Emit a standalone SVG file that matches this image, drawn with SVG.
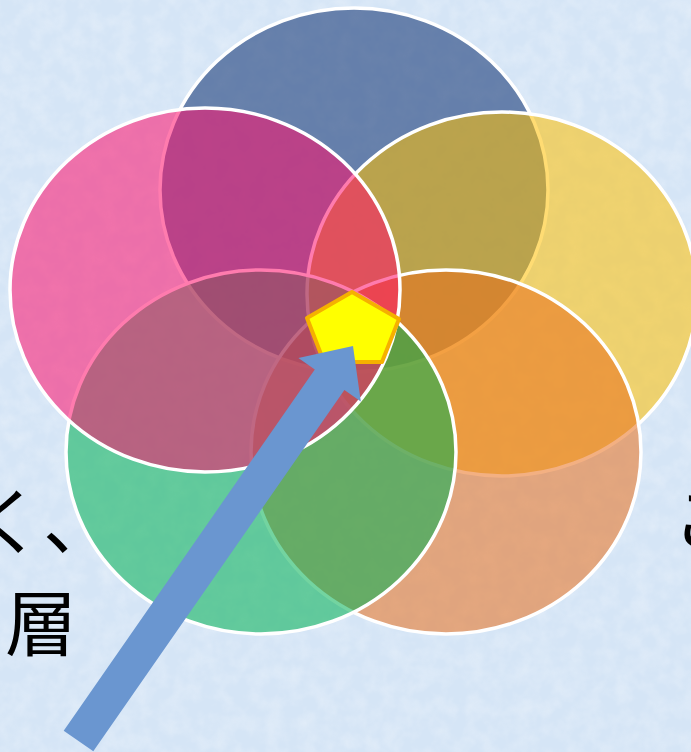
<svg xmlns="http://www.w3.org/2000/svg" width="691" height="752" viewBox="0 0 691 752">
<style>
.e{stroke:#ffffff;stroke-width:3.5;fill-opacity:0.55}
.t{font-family:"Noto Sans CJK JP","Noto Sans CJK SC",sans-serif;font-size:72px;fill:#000}
</style>
<defs>
<filter id="tex" x="0" y="0" width="100%" height="100%">
<feTurbulence type="fractalNoise" baseFrequency="0.06" numOctaves="3" seed="4"/>
<feColorMatrix type="matrix" values="0 0 0 0 1  0 0 0 0 1  0 0 0 0 1  0 0 0 0.9 -0.3"/>
</filter>
</defs>
<rect width="691" height="752" fill="#d5e5f6"/>
<rect width="691" height="752" filter="url(#tex)" opacity="0.5"/>
<g id="blue"><ellipse class="e" cx="354" cy="190" rx="194" ry="182" fill="#0a2c6e"/></g>
<g id="yellow"><ellipse class="e" cx="502" cy="294" rx="195" ry="182" fill="#ffc000"/></g>
<g id="orange"><ellipse class="e" cx="446" cy="452" rx="195" ry="182" fill="#ea701c"/></g>
<g id="green"><ellipse class="e" cx="261" cy="452" rx="195" ry="182" fill="#00b052"/></g>
<g id="pink"><ellipse class="e" cx="205" cy="290" rx="195" ry="182" fill="#ff0f6c"/></g>
<g id="center"><polygon points="352,292 399,319 382,362 324,362 307,318" fill="#ffff00" stroke="#f5b000" stroke-width="4" stroke-linejoin="round"/></g>
<g id="connectors"><polygon points="63.7,730.7 314.8,369.4 298.4,358 353,346 360.8,401.4 344.4,390 93.3,751.3" fill="#6a96d0"/></g>
<g id="labels">
<text class="t" x="-29" y="548">く、</text>
<text class="t" x="5" y="650">層</text>
<text class="t" x="672" y="546">こ</text>
</g>
</svg>
